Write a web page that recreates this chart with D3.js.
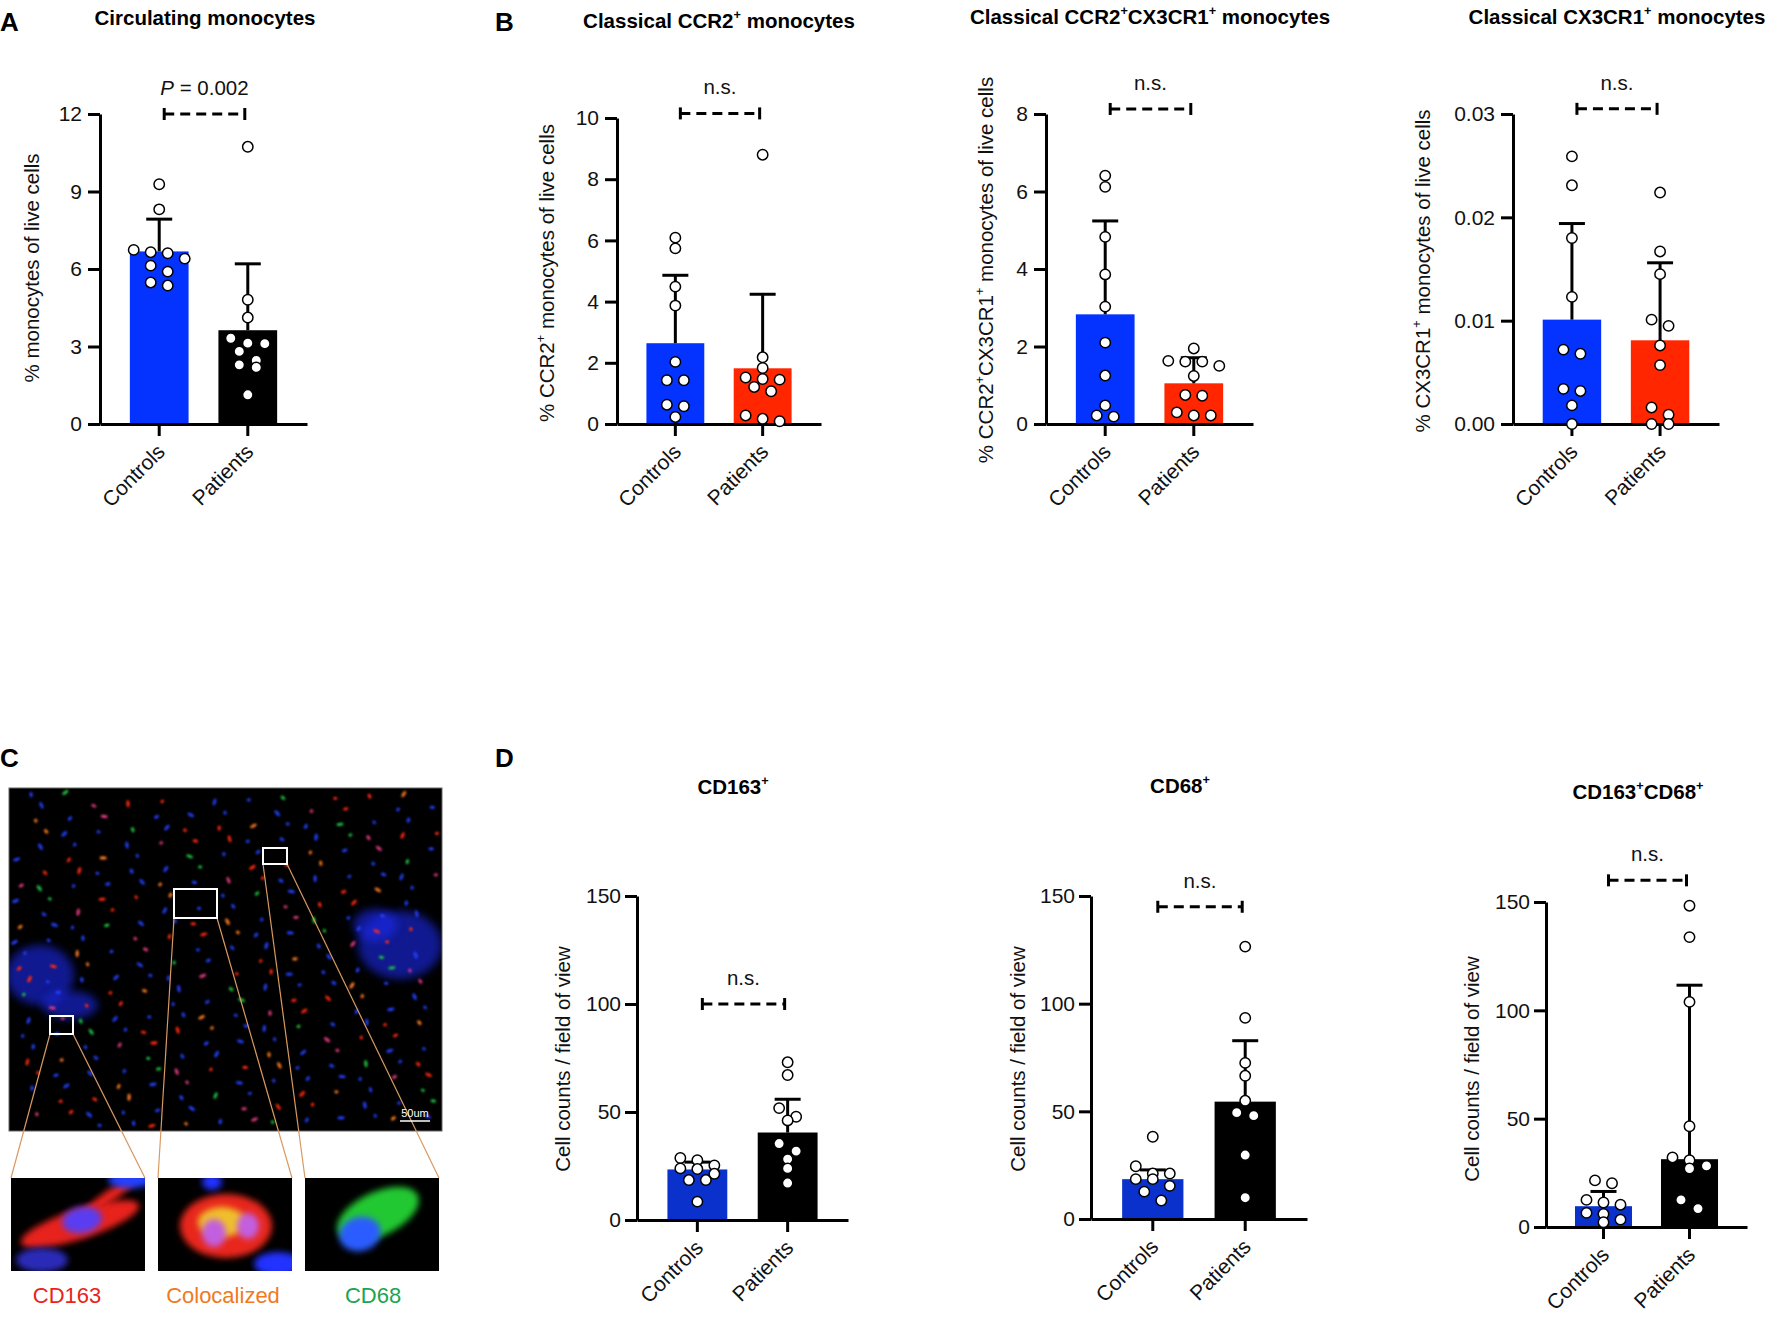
<!DOCTYPE html>
<html>
<head>
<meta charset="utf-8">
<script src="https://cdn.jsdelivr.net/npm/d3@7"></script>
<style>
  body { margin: 0; background: #fff; }
  svg { display: block; }
</style>
</head>
<body>
<svg id="fig" width="1772" height="1319"></svg>
<script>
const groups = ['Controls', 'Patients']

// A - circulating monocytes
const monoTicks = [0, 3, 6, 9, 12]
const monoMean = [6.68, 3.63]
const monoSd = [1.25, 2.57]
const monoControls = [9.28, 8.31, 6.74, 6.65, 6.61, 6.40, 6.13, 5.90, 5.48, 5.36]
const monoPatients = [10.73, 4.81, 4.12, 3.32, 3.13, 3.11, 2.81, 2.46, 2.29, 2.19, 1.13]

// B - classical CCR2+
const ccr2Ticks = [0, 2, 4, 6, 8, 10]
const ccr2Mean = [2.64, 1.82]
const ccr2Sd = [2.22, 2.42]
const ccr2Controls = [6.09, 5.74, 4.49, 3.87, 2.03, 1.43, 1.43, 0.63, 0.58, 0.23]
const ccr2Patients = [8.80, 2.18, 1.83, 1.52, 1.47, 1.45, 1.21, 1.07, 0.28, 0.17, 0.09]

// B - classical CCR2+CX3CR1+
const bothTicks = [0, 2, 4, 6, 8]
const bothMean = [2.83, 1.05]
const bothSd = [2.41, 0.66]
const bothControls = [6.41, 6.12, 4.83, 3.86, 3.03, 2.10, 1.25, 0.48, 0.22, 0.19]
const bothPatients = [1.95, 1.63, 1.61, 1.61, 1.50, 1.24, 0.75, 0.73, 0.30, 0.22, 0.22]

// B - classical CX3CR1+
const cx3Ticks = [0, 0.01, 0.02, 0.03]
const cx3Mean = [0.0101, 0.0081]
const cx3Sd = [0.0093, 0.0075]
const cx3Controls = [0.0259, 0.0231, 0.0180, 0.0123, 0.0072, 0.0068, 0.0034, 0.0032, 0.0018, 0.0]
const cx3Patients = [0.0224, 0.0167, 0.0145, 0.0101, 0.0095, 0.0076, 0.0057, 0.0016, 0.0009, 0.0, 0.0]

// D - tissue cell counts
const countTicks = [0, 50, 100, 150]
const cd163Mean = [23.4, 40.5]
const cd163Sd = [3.4, 15.4]
const cd163Controls = [28.7, 27.7, 25.3, 23.9, 23.6, 21.4, 18.5, 18.5, 8.5]
const cd163Patients = [73.0, 67.1, 51.8, 47.8, 46.1, 35.4, 31.9, 28.2, 23.9, 17.1]

const cd68Mean = [18.5, 54.5]
const cd68Sd = [4.3, 28.3]
const cd68Controls = [38.2, 24.5, 21.1, 21.1, 18.5, 18.5, 15.4, 12.7, 8.6]
const cd68Patients = [126.5, 93.4, 72.5, 66.5, 54.9, 49.4, 48.0, 29.7, 9.9]

const dualMean = [9.6, 31.3]
const dualSd = [6.8, 80.3]
const dualControls = [21.5, 20.2, 12.5, 11.3, 10.3, 6.5, 6.0, 3.4, 2.2]
const dualPatients = [148.3, 133.8, 103.9, 46.5, 32.1, 30.8, 28.2, 27.0, 12.5, 8.5]

const font = '"Liberation Sans", Arial, Helvetica, sans-serif'
const blue = '#0433ff', red = '#ff2600', dBlue = '#0a31cc'

const svg = d3.select('#fig').attr('font-family', font)

function richText(sel, parts, size) {
	parts.forEach(([t, sup], i) => {
		const ts = sel.append('tspan').text(t)
		if (sup) ts.attr('font-size', size * 0.62).attr('dy', -size * 0.42)
		else if (i > 0 && parts[i - 1][1]) ts.attr('dy', size * 0.42)
	})
}

// group points into rows like a column scatter, then spread each row sideways
function swarm(ys, gap) {
	const order = d3.range(ys.length).sort((a, b) => ys[a] - ys[b])
	const offs = new Array(ys.length)
	let row = []
	const flush = () => { row.forEach((k, j) => offs[k] = j - (row.length - 1) / 2); row = [] }
	order.forEach(k => {
		if (row.length && ys[k] - ys[row[0]] > gap) flush()
		row.push(k)
	})
	flush()
	return offs
}

function drawPanel(p) {
	const g = svg.append('g')
	const x = d3.scaleBand().domain(groups).range([p.x0, p.x1]).paddingInner(0.337).paddingOuter(0.337)
	const y = d3.scaleLinear().domain([0, p.max]).range([p.y0, p.y1])
	const cx = i => x(groups[i]) + x.bandwidth() / 2

	g.selectAll('rect.bar').data(p.mean).enter().append('rect')
		.attr('class', 'bar')
		.attr('x', (d, i) => x(groups[i])).attr('width', x.bandwidth())
		.attr('y', d => y(d)).attr('height', d => p.y0 - y(d))
		.attr('fill', (d, i) => p.colors[i])

	p.mean.forEach((m, i) => {
		const top = y(m + p.sd[i])
		g.append('line').attr('x1', cx(i)).attr('x2', cx(i)).attr('y1', y(m)).attr('y2', top)
			.attr('stroke', '#000').attr('stroke-width', 3)
		g.append('line').attr('x1', cx(i) - 13).attr('x2', cx(i) + 13).attr('y1', top).attr('y2', top)
			.attr('stroke', '#000').attr('stroke-width', 3)
	})

	const yAx = g.append('g').attr('transform', `translate(${p.x0},0)`)
		.call(d3.axisLeft(y).tickValues(p.ticks).tickFormat(p.fmt).tickSize(12).tickSizeOuter(0).tickPadding(p.pad))
		.attr('font-family', font).attr('font-size', 21)
	yAx.selectAll('path, line').attr('stroke-width', 3)
	yAx.selectAll('text').attr('fill', '#111')

	const xAx = g.append('g').attr('transform', `translate(0,${p.y0})`)
		.call(d3.axisBottom(x).tickSize(12).tickSizeOuter(0))
		.attr('font-family', font).attr('font-size', 21)
	xAx.selectAll('path, line').attr('stroke-width', 3)
	xAx.selectAll('text').attr('y', 0).attr('dy', 0).attr('fill', '#111')
		.attr('text-anchor', 'end').attr('transform', 'translate(7,29) rotate(-45)')

	p.points.forEach((vals, i) => {
		const ys = vals.map(v => y(v))
		const offs = swarm(ys, 9.2)
		g.selectAll(null).data(vals).enter().append('circle')
			.attr('cx', (d, k) => cx(i) + offs[k] * 17).attr('cy', (d, k) => ys[k]).attr('r', 5.2)
			.attr('fill', '#fff').attr('stroke', '#000').attr('stroke-width', 1.5)
	})

	// significance bracket
	const by = y(p.bracket), bx1 = cx(0) + 5, bx2 = cx(1) - 3
	g.append('line').attr('x1', bx1).attr('x2', bx2).attr('y1', by).attr('y2', by)
		.attr('stroke', '#000').attr('stroke-width', 3).attr('stroke-dasharray', '10,6')
	;[bx1, bx2].forEach(bx => g.append('line').attr('x1', bx).attr('x2', bx).attr('y1', by - 6).attr('y2', by + 6)
		.attr('stroke', '#000').attr('stroke-width', 3))
	const st = g.append('text').attr('x', (bx1 + bx2) / 2).attr('y', by - 19)
		.attr('text-anchor', 'middle').attr('font-size', 20.5).attr('fill', '#111')
	if (p.pval) {
		st.append('tspan').attr('font-style', 'italic').text('P')
		st.append('tspan').text(' = ' + p.pval)
	} else st.text('n.s.')

	const tt = g.append('text').attr('x', p.title[0]).attr('y', p.title[1])
		.attr('text-anchor', 'middle').attr('font-weight', 'bold').attr('font-size', 20.5)
	richText(tt, p.title[2], 20.5)

	const yt = g.append('text').attr('transform', `translate(${p.ylab[0] + 7},${p.ylab[1]}) rotate(-90)`)
		.attr('text-anchor', 'middle').attr('font-size', 20.5).attr('fill', '#111')
	richText(yt, p.ylab[2], 20.5)
}

const fmtInt = d3.format('d')

drawPanel({ x0: 100, x1: 307, y0: 424, y1: 114, max: 12, ticks: monoTicks, fmt: fmtInt, pad: 6,
	mean: monoMean, sd: monoSd, points: [monoControls, monoPatients], colors: [blue, '#000'],
	bracket: 12, pval: '0.002',
	title: [205, 25, [['Circulating monocytes', false]]],
	ylab: [32, 268, [['% monocytes of live cells', false]]] })

drawPanel({ x0: 617, x1: 821, y0: 424, y1: 118, max: 10, ticks: ccr2Ticks, fmt: fmtInt, pad: 6,
	mean: ccr2Mean, sd: ccr2Sd, points: [ccr2Controls, ccr2Patients], colors: [blue, red],
	bracket: 10.15,
	title: [719, 28, [['Classical CCR2', false], ['+', true], [' monocytes', false]]],
	ylab: [547, 273, [['% CCR2', false], ['+', true], [' monocytes of live cells', false]]] })

drawPanel({ x0: 1046, x1: 1253, y0: 424, y1: 114, max: 8, ticks: bothTicks, fmt: fmtInt, pad: 6,
	mean: bothMean, sd: bothSd, points: [bothControls, bothPatients], colors: [blue, red],
	bracket: 8.13,
	title: [1150, 24, [['Classical CCR2', false], ['+', true], ['CX3CR1', false], ['+', true], [' monocytes', false]]],
	ylab: [986, 270, [['% CCR2', false], ['+', true], ['CX3CR1', false], ['+', true], [' monocytes of live cells', false]]] })

drawPanel({ x0: 1513, x1: 1719, y0: 424, y1: 114, max: 0.03, ticks: cx3Ticks, fmt: d3.format('.2f'), pad: 6,
	mean: cx3Mean, sd: cx3Sd, points: [cx3Controls, cx3Patients], colors: [blue, red],
	bracket: 0.0305,
	title: [1617, 24, [['Classical CX3CR1', false], ['+', true], [' monocytes', false]]],
	ylab: [1423, 271, [['% CX3CR1', false], ['+', true], [' monocytes of live cells', false]]] })

const countLabel = [['Cell counts / field of view', false]]

drawPanel({ x0: 637, x1: 848, y0: 1220, y1: 896, max: 150, ticks: countTicks, fmt: fmtInt, pad: 4,
	mean: cd163Mean, sd: cd163Sd, points: [cd163Controls, cd163Patients], colors: [dBlue, '#000'],
	bracket: 100,
	title: [733, 794, [['CD163', false], ['+', true]]],
	ylab: [563, 1059, countLabel] })

drawPanel({ x0: 1091, x1: 1307, y0: 1219, y1: 896, max: 150, ticks: countTicks, fmt: fmtInt, pad: 4,
	mean: cd68Mean, sd: cd68Sd, points: [cd68Controls, cd68Patients], colors: [dBlue, '#000'],
	bracket: 145,
	title: [1180, 793, [['CD68', false], ['+', true]]],
	ylab: [1018, 1059, countLabel] })

drawPanel({ x0: 1546, x1: 1747, y0: 1227, y1: 902, max: 150, ticks: countTicks, fmt: fmtInt, pad: 4,
	mean: dualMean, sd: dualSd, points: [dualControls, dualPatients], colors: [dBlue, '#000'],
	bracket: 160,
	title: [1638, 799, [['CD163', false], ['+', true], ['CD68', false], ['+', true]]],
	ylab: [1472, 1069, countLabel] })

// panel letters
;[['A', 0, 31], ['B', 495, 31], ['C', 0, 767], ['D', 495, 767]].forEach(([t, lx, ly]) =>
	svg.append('text').attr('x', lx).attr('y', ly).attr('font-weight', 'bold').attr('font-size', 26).text(t))

// C - immunofluorescence micrograph (schematic)
function drawMicrograph() {
	const defs = svg.append('defs')
	;[['b1', 0.8], ['b3', 3], ['b5', 4]].forEach(([id, s]) => defs.append('filter').attr('id', id)
		.attr('x', '-50%').attr('y', '-50%').attr('width', '200%').attr('height', '200%')
		.append('feGaussianBlur').attr('stdDeviation', s))

	const img = { x: 9, y: 788, w: 433, h: 343 }
	defs.append('clipPath').attr('id', 'clipMain').append('rect')
		.attr('x', img.x).attr('y', img.y).attr('width', img.w).attr('height', img.h)
	const g = svg.append('g')
	g.append('rect').attr('x', img.x).attr('y', img.y).attr('width', img.w).attr('height', img.h)
		.attr('fill', '#000').attr('stroke', '#666').attr('stroke-width', 1)

	const tex = g.append('g').attr('clip-path', 'url(#clipMain)')
	// dense nuclei patches on either side of the section
	;[[40, 975, 34, 30], [70, 1005, 28, 14], [400, 945, 42, 34], [375, 925, 22, 16]].forEach(([ex, ey, rx, ry]) =>
		tex.append('ellipse').attr('cx', ex).attr('cy', ey).attr('rx', rx).attr('ry', ry)
			.attr('fill', '#1a2cf0').attr('opacity', 0.6).attr('filter', 'url(#b5)'))
	// scattered nuclei and stained cells laid out on a low-discrepancy sequence
	const cellCols = ['#2340ff', '#2340ff', '#ff2a10', '#2340ff', '#e03a80', '#2340ff', '#ff7a20', '#2340ff', '#ff2a10', '#20c040']
	d3.range(1, 300).forEach(i => {
		const px = img.x + 4 + ((i * 0.7548776662) % 1) * (img.w - 8)
		const py = img.y + 4 + ((i * 0.5698402910) % 1) * (img.h - 8)
		tex.append('ellipse').attr('cx', px).attr('cy', py)
			.attr('rx', 2 + (i % 3) * 0.8).attr('ry', 1.6).attr('transform', `rotate(${(i * 37) % 180},${px},${py})`)
			.attr('fill', cellCols[i % cellCols.length]).attr('filter', 'url(#b1)')
	})

	const boxes = [[50, 1016, 23, 18], [174, 889, 43, 29], [263, 848, 24, 16]]
	const insets = [[11, 1178], [158, 1178], [305, 1178]]
	const iw = 134, ih = 93
	boxes.forEach(([bx, by, bw, bh], i) => {
		const [ix, iy] = insets[i]
		g.append('line').attr('x1', bx).attr('y1', by + bh).attr('x2', ix).attr('y2', iy)
			.attr('stroke', '#d99a62').attr('stroke-width', 1.2)
		g.append('line').attr('x1', bx + bw).attr('y1', by + bh).attr('x2', ix + iw).attr('y2', iy)
			.attr('stroke', '#d99a62').attr('stroke-width', 1.2)
		g.append('rect').attr('x', bx).attr('y', by).attr('width', bw).attr('height', bh)
			.attr('fill', 'none').attr('stroke', '#fff').attr('stroke-width', 2)
		defs.append('clipPath').attr('id', 'clipIn' + i).append('rect')
			.attr('x', ix).attr('y', iy).attr('width', iw).attr('height', ih)
		g.append('rect').attr('x', ix).attr('y', iy).attr('width', iw).attr('height', ih).attr('fill', '#000')
	})

	const blob = (i, cx, cy, rx, ry, rot, fill) => g.append('g').attr('clip-path', `url(#clipIn${i})`)
		.append('ellipse').attr('cx', cx).attr('cy', cy).attr('rx', rx).attr('ry', ry)
		.attr('transform', `rotate(${rot},${cx},${cy})`).attr('fill', fill).attr('filter', 'url(#b3)')

	blob(0, 80, 1224, 62, 15, -18, '#e8221a')
	blob(0, 110, 1196, 30, 6, -35, '#e8221a')
	blob(0, 82, 1220, 20, 13, -10, '#5a3cf0')
	blob(0, 42, 1260, 26, 12, 0, '#2a2ab8')
	blob(0, 130, 1180, 22, 8, 0, '#2040ff')
	blob(1, 226, 1226, 46, 32, 0, '#e8261a')
	blob(1, 222, 1222, 24, 15, 0, '#f0c02a')
	blob(1, 214, 1233, 12, 14, 0, '#c25ee0')
	blob(1, 248, 1226, 11, 13, 0, '#c25ee0')
	blob(1, 212, 1182, 10, 8, 0, '#2030ff')
	blob(1, 278, 1264, 24, 12, 0, '#2030ff')
	blob(2, 378, 1214, 44, 22, -25, '#20c830')
	blob(2, 360, 1234, 21, 17, -15, '#2a5cff')

	g.append('text').attr('x', 415).attr('y', 1117).attr('text-anchor', 'middle')
		.attr('font-size', 11).attr('fill', '#fff').text('50um')
	g.append('line').attr('x1', 400).attr('x2', 430).attr('y1', 1121).attr('y2', 1121)
		.attr('stroke', '#fff').attr('stroke-width', 1.5)

	;[['CD163', 67, '#e8241c'], ['Colocalized', 223, '#f07a1e'], ['CD68', 373, '#1aa552']].forEach(([t, lx, c]) =>
		g.append('text').attr('x', lx).attr('y', 1303).attr('text-anchor', 'middle')
			.attr('font-size', 22).attr('fill', c).text(t))
}

drawMicrograph()
</script>
</body>
</html>
